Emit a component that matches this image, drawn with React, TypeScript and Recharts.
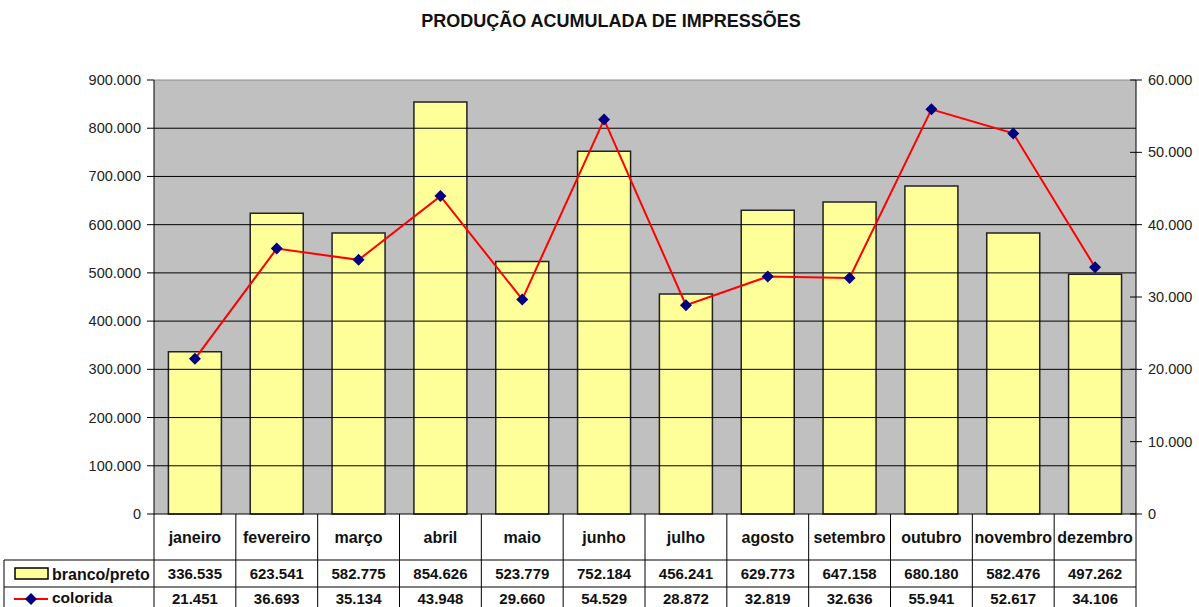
import React from "react";
import {
  ComposedChart, Bar, Line, XAxis, YAxis, CartesianGrid, ReferenceLine,
} from "recharts";

const MONTHS = [
  "janeiro", "fevereiro", "março", "abril", "maio", "junho",
  "julho", "agosto", "setembro", "outubro", "novembro", "dezembro",
];
const BRANCO_PRETO = [
  336535, 623541, 582775, 854626, 523779, 752184,
  456241, 629773, 647158, 680180, 582476, 497262,
];
const COLORIDA = [
  21451, 36693, 35134, 43948, 29660, 54529,
  28872, 32819, 32636, 55941, 52617, 34106,
];
const LEFT_TICKS = [0, 100000, 200000, 300000, 400000, 500000, 600000, 700000, 800000, 900000];
const RIGHT_TICKS = [0, 10000, 20000, 30000, 40000, 50000, 60000];

const W = 1199;
const H = 607;
const PLOT_L = 154;
const PLOT_R = 1136;
const PLOT_T = 80;
const PLOT_B = 514;
const COL_W = (PLOT_R - PLOT_L) / MONTHS.length;
const FONT = "'Liberation Sans', Arial, sans-serif";

const fmt = (v: number) => String(v).replace(/\B(?=(\d{3})+(?!\d))/g, ".");

const data = MONTHS.map((m, i) => ({
  month: m,
  branco: BRANCO_PRETO[i],
  colorida: COLORIDA[i],
}));

const Diamond = (props: any) => {
  const { cx, cy } = props;
  if (cx == null || cy == null) return null;
  const s = 6;
  return (
    <polygon
      points={`${cx},${cy - s} ${cx + s},${cy} ${cx},${cy + s} ${cx - s},${cy}`}
      fill="#000080"
    />
  );
};

const LeftTick = (props: any) => {
  const { y, payload } = props;
  return (
    <g>
      <line x1={PLOT_L - 7} x2={PLOT_L} y1={y} y2={y} stroke="#000" />
      <text x={PLOT_L - 13} y={y + 5} textAnchor="end" fontSize={14.5} fill="#222" fontFamily={FONT}>
        {fmt(payload.value)}
      </text>
    </g>
  );
};

const RightTick = (props: any) => {
  const { y, payload } = props;
  return (
    <g>
      <line x1={PLOT_R - 6} x2={PLOT_R + 6} y1={y} y2={y} stroke="#000" />
      <text x={PLOT_R + 12} y={y + 5} textAnchor="start" fontSize={14.5} fill="#222" fontFamily={FONT}>
        {fmt(payload.value)}
      </text>
    </g>
  );
};

const TableTick = (props: any) => {
  const { x, payload } = props;
  const row = data.find((d) => d.month === payload.value);
  if (!row) return null;
  const idx = MONTHS.indexOf(row.month);
  const left = x - COL_W / 2;
  const right = x + COL_W / 2;
  const num = { fontSize: 15, fontWeight: "bold" as const, fill: "#111", fontFamily: FONT };
  const lbl = { ...num, fontSize: 16 };
  return (
    <g>
      <line x1={left} x2={left} y1={PLOT_B} y2={H} stroke="#000" />
      {idx === MONTHS.length - 1 && (
        <line x1={right} x2={right} y1={PLOT_B} y2={H} stroke="#000" />
      )}
      <text x={x} y={543} textAnchor="middle" {...lbl}>{row.month}</text>
      <text x={x} y={579} textAnchor="middle" {...num}>{fmt(row.branco)}</text>
      <text x={x} y={604} textAnchor="middle" {...num}>{fmt(row.colorida)}</text>
      {idx === 0 && (
        <g>
          <line x1={PLOT_L} x2={PLOT_R} y1={560} y2={560} stroke="#000" />
          <line x1={4} x2={PLOT_L} y1={560} y2={560} stroke="#000" />
          <line x1={4} x2={PLOT_R} y1={587} y2={587} stroke="#000" />
          <line x1={4} x2={4} y1={560} y2={H} stroke="#000" />
          <rect x={15} y={568} width={33} height={11} fill="#ffff99" stroke="#000" strokeWidth={1.5} />
          <text x={52} y={580} {...lbl}>branco/preto</text>
          <line x1={14} x2={48} y1={599} y2={599} stroke="#ff0000" strokeWidth={2} />
          <Diamond cx={31} cy={599} />
          <text x={52} y={603} {...lbl} fontSize={15.5}>colorida</text>
        </g>
      )}
    </g>
  );
};

export default function App() {
  return (
    <div style={{ position: "absolute", left: 0, top: 0, width: W, height: H, background: "#fff" }}>
      <div
        style={{
          position: "absolute", left: 0, top: 11, width: 1222, textAlign: "center",
          fontFamily: FONT, fontWeight: "bold", fontSize: 18, color: "#111",
        }}
      >
        PRODUÇÃO ACUMULADA DE IMPRESSÕES
      </div>
      <ComposedChart
        width={W}
        height={H}
        data={data}
        margin={{ top: PLOT_T, right: 0, bottom: 0, left: 0 }}
        barCategoryGap="17.6%"
      >
        <CartesianGrid vertical={false} horizontal={false} fill="#c0c0c0" yAxisId="left" />
        <XAxis
          dataKey="month"
          interval={0}
          height={H - PLOT_B}
          axisLine={false}
          tickLine={false}
          tick={<TableTick />}
        />
        <YAxis
          yAxisId="left"
          orientation="left"
          width={PLOT_L}
          domain={[0, 900000]}
          ticks={LEFT_TICKS}
          interval={0}
          axisLine={{ stroke: "#000" }}
          tickLine={false}
          tick={<LeftTick />}
        />
        <YAxis
          yAxisId="right"
          orientation="right"
          width={W - PLOT_R}
          domain={[0, 60000]}
          ticks={RIGHT_TICKS}
          interval={0}
          axisLine={{ stroke: "#000" }}
          tickLine={false}
          tick={<RightTick />}
        />
        {LEFT_TICKS.slice(0, -1).map((t) => (
          <ReferenceLine key={t} yAxisId="left" y={t} stroke="#000" strokeWidth={1} />
        ))}
        <ReferenceLine yAxisId="left" y={900000} stroke="#8c8c8c" strokeWidth={1} />
        <Bar
          yAxisId="left"
          dataKey="branco"
          fill="#ffff99"
          stroke="#222"
          strokeWidth={1.5}
          isAnimationActive={false}
        />
        <Line
          yAxisId="right"
          dataKey="colorida"
          type="linear"
          stroke="#ff0000"
          strokeWidth={2}
          dot={<Diamond />}
          activeDot={false}
          isAnimationActive={false}
        />
      </ComposedChart>
    </div>
  );
}
